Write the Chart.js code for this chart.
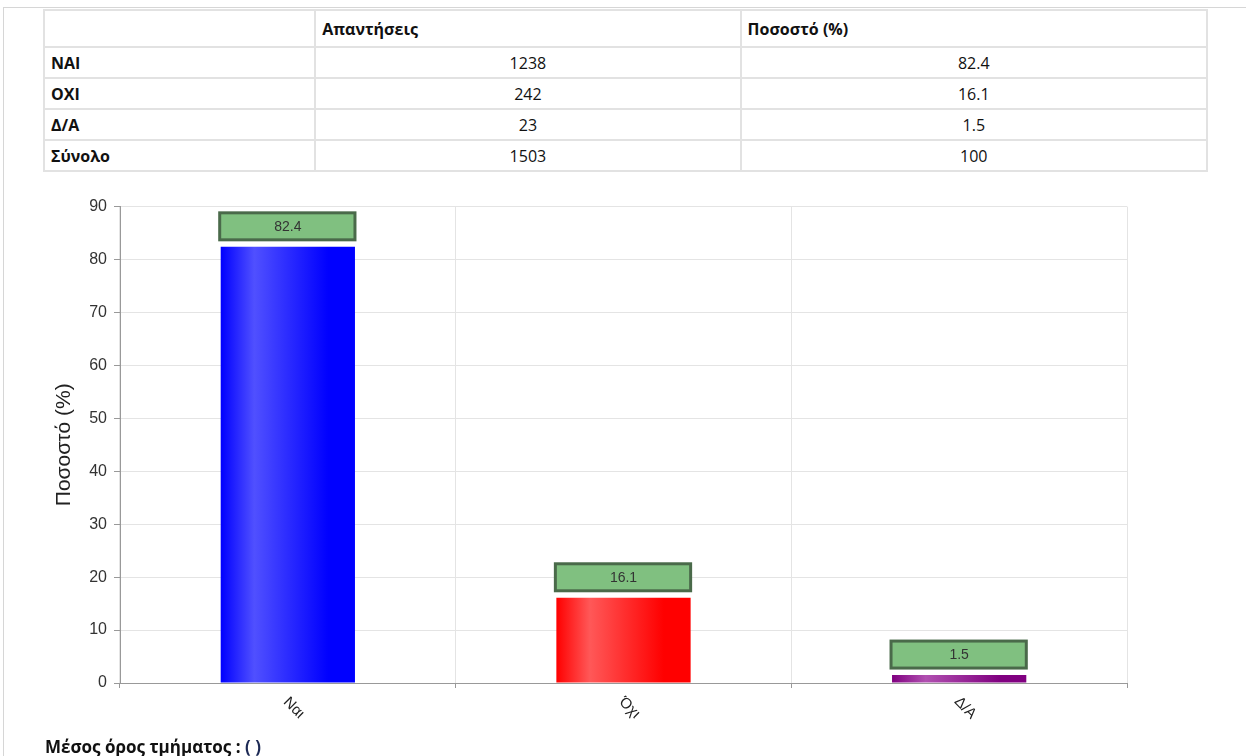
<!DOCTYPE html>
<html>
<head>
<meta charset="utf-8">
<script src="https://cdn.jsdelivr.net/npm/chart.js@4/dist/chart.umd.min.js"></script>
<style>
body { margin: 0; background: #fff; width: 1246px; height: 756px; overflow: hidden; position: relative; font-family: "Open Sans", sans-serif; color: #111; }
.frame { position: absolute; left: 3px; top: 7px; right: 0; bottom: 0; border-top: 1px solid #d6d6d6; border-left: 1px solid #d6d6d6; }
table { position: absolute; left: 43px; top: 9px; width: 1165px; border-collapse: collapse; font-size: 16px; }
td, th { border: 2px solid #e2e2e2; padding: 0 6px; height: 29px; line-height: 20px; }
th { text-align: left; font-weight: bold; height: 35px; }
td.lbl { font-weight: bold; }
td.num { text-align: center; }
.wrap { position: absolute; left: 0; top: 190px; width: 1246px; height: 550px; }
.avg { position: absolute; left: 45px; top: 736px; font-size: 17px; font-weight: bold; line-height: 22px; color: #111; }
.avg span { color: #1d2a55; }
</style>
</head>
<body>
<div class="frame"></div>
<table id="tbl"></table>
<div class="wrap"><canvas id="myChart"></canvas></div>
<div class="avg">Μέσος όρος τμήματος : <span>( )</span></div>
<script>
// table data
const headers = ['', 'Απαντήσεις', 'Ποσοστό (%)'];
const rowLabels = ['ΝΑΙ', 'ΟΧΙ', 'Δ/Α', 'Σύνολο'];
const answers = [1238, 242, 23, 1503];
const answerPct = [82.4, 16.1, 1.5, 100];

// chart data
const categories = ['Ναι', 'Όχι', 'Δ/Α'];
const percentages = [82.4, 16.1, 1.5];
const barColors = ['#0000ff', '#ff0000', '#800080'];
const barShine = ['#5050ff', '#ff5858', '#b050b0'];

let html = '<colgroup><col style="width:271px"><col style="width:425px"><col style="width:466px"></colgroup>';
html += '<tr>' + headers.map(h => `<th>${h}</th>`).join('') + '</tr>';
rowLabels.forEach((r, i) => {
	html += `<tr><td class="lbl">${r}</td><td class="num">${answers[i]}</td><td class="num">${answerPct[i]}</td></tr>`;
});
document.getElementById('tbl').innerHTML = html;

function barFill(c) {
	const chart = c.chart;
	const x = chart.scales.x;
	if (!chart.chartArea || !x) return barColors[c.dataIndex];
	const cx = x.getPixelForValue(c.dataIndex);
	const half = (x.getPixelForValue(1) - x.getPixelForValue(0)) * 0.2;
	const g = chart.ctx.createLinearGradient(cx - half, 0, cx + half, 0);
	g.addColorStop(0, barColors[c.dataIndex]);
	g.addColorStop(0.25, barShine[c.dataIndex]);
	g.addColorStop(0.8, barColors[c.dataIndex]);
	g.addColorStop(1, barColors[c.dataIndex]);
	return g;
}

// green value boxes over the bars + rotated category labels
const boxLabels = {
	id: 'boxLabels',
	afterDatasetsDraw(chart) {
		const ctx = chart.ctx;
		const meta = chart.getDatasetMeta(0);
		ctx.save();
		meta.data.forEach((bar, i) => {
			const w = bar.width;
			const top = bar.y - 7 - 27;
			ctx.fillStyle = '#80c080';
			ctx.fillRect(bar.x - w / 2 - 1, top, w + 1, 27);
			ctx.lineWidth = 3;
			ctx.strokeStyle = '#4a6a4a';
			ctx.strokeRect(bar.x - w / 2 - 1, top, w + 1, 27);
			ctx.fillStyle = '#333';
			ctx.font = '14px "Liberation Sans", Arial, sans-serif';
			ctx.textAlign = 'center';
			ctx.textBaseline = 'middle';
			ctx.fillText(String(percentages[i]), bar.x, top + 14);
		});
		const xs = chart.scales.x;
		ctx.fillStyle = '#222';
		ctx.font = '15px "Liberation Sans", Arial, sans-serif';
		categories.forEach((c, i) => {
			ctx.save();
			ctx.translate(xs.getPixelForValue(i) + 6, xs.top + 25);
			ctx.rotate(Math.PI / 4);
			ctx.textAlign = 'center';
			ctx.textBaseline = 'middle';
			ctx.fillText(c, 0, 0);
			ctx.restore();
		});
		ctx.restore();
	}
};

const ctx = document.getElementById('myChart').getContext('2d');
const myChart = new Chart(ctx, {
	type: 'bar',
	data: {
		labels: categories,
		datasets: [{
			label: 'Ποσοστό (%)',
			data: percentages,
			backgroundColor: barFill,
			borderWidth: 0,
			barPercentage: 0.4,
			categoryPercentage: 1
		}]
	},
	options: {
		responsive: true,
		maintainAspectRatio: false,
		animation: false,
		layout: { padding: { top: 13, right: 119, left: 0, bottom: 0 } },
		plugins: {
			legend: { display: false },
			tooltip: { enabled: false }
		},
		scales: {
			x: {
				grid: { color: '#e4e4e4', tickColor: '#999', tickLength: 5, offset: true },
				border: { color: '#999' },
				ticks: { display: false },
				afterFit(scale) { scale.height = 57; }
			},
			y: {
				min: 0,
				max: 90,
				ticks: {
					stepSize: 10,
					padding: 7,
					color: '#333',
					font: { family: '"Liberation Sans", Arial, sans-serif', size: 16 }
				},
				grid: { color: '#e4e4e4', tickColor: '#999', tickLength: 6 },
				border: { color: '#999' },
				title: {
					display: true,
					text: 'Ποσοστό (%)',
					color: '#222',
					padding: { top: 52, bottom: 0 },
					font: { family: '"Liberation Sans", Arial, sans-serif', size: 21 }
				},
				afterFit(scale) { scale.width = 120; }
			}
		}
	},
	plugins: [boxLabels]
});
</script>
</body>
</html>
